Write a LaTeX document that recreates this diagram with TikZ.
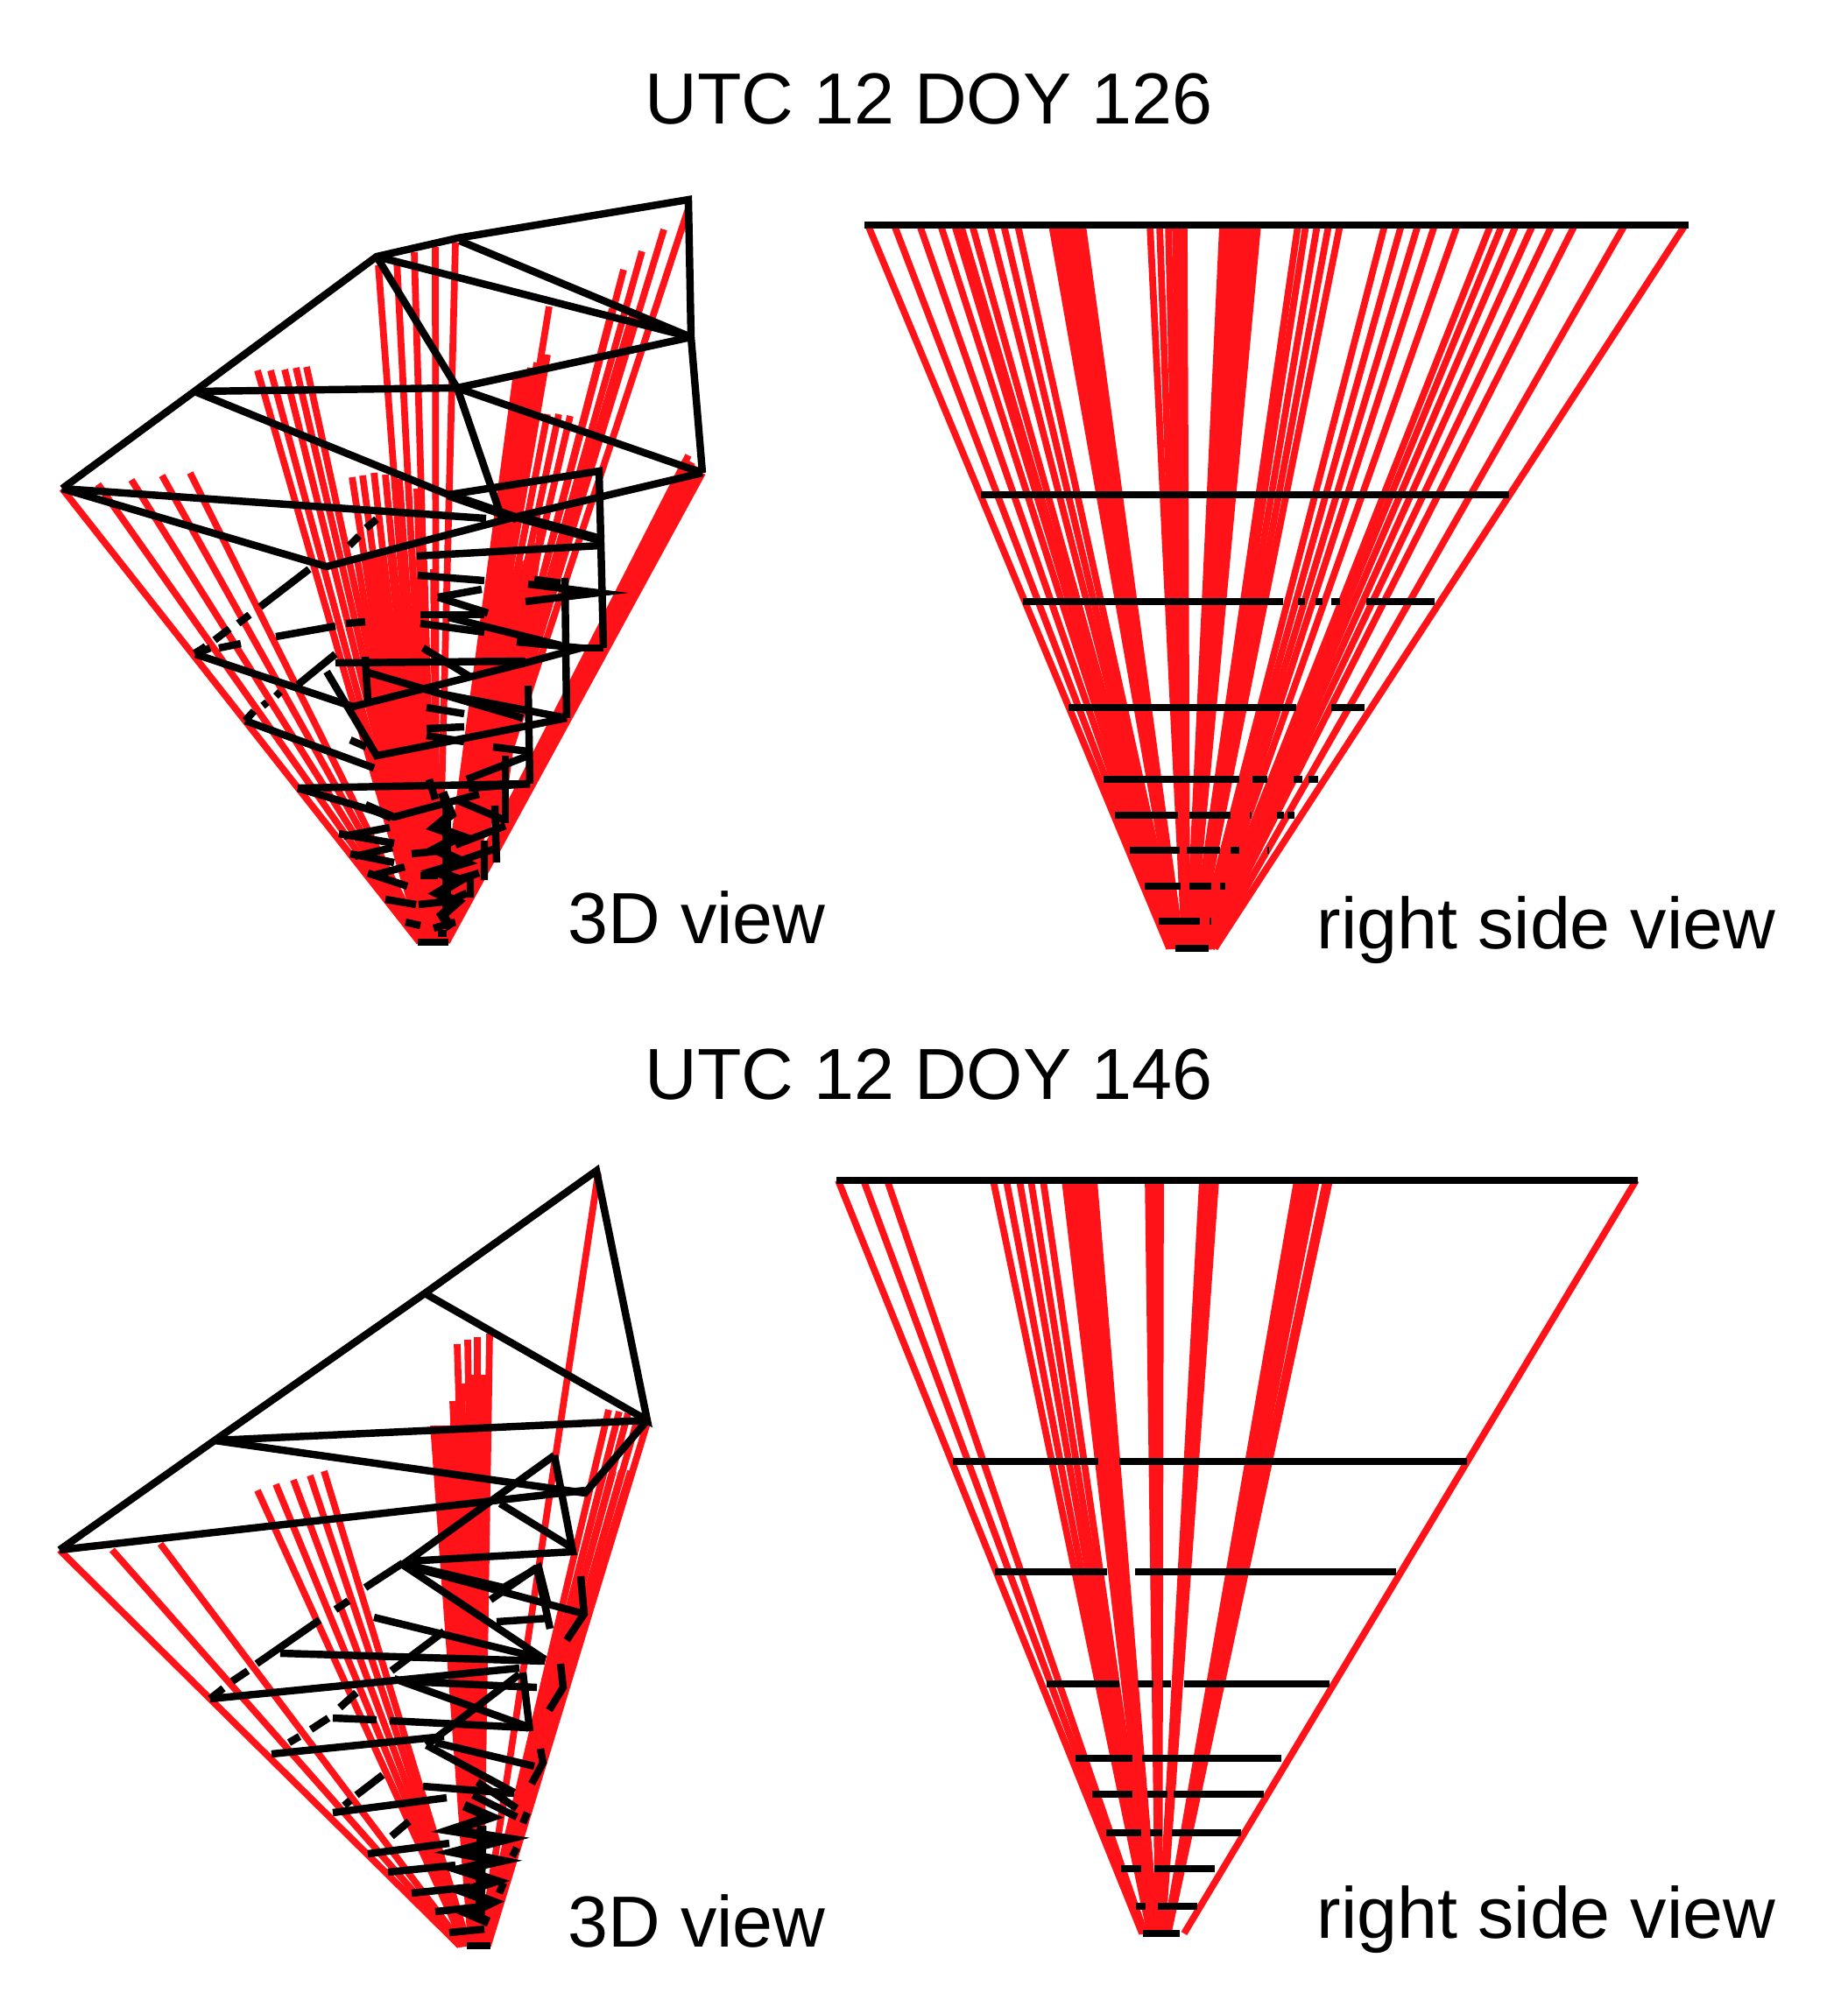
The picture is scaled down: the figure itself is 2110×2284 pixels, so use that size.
\documentclass[tikz,border=0pt]{standalone}
\usepackage{fontspec}
\setmainfont{Liberation Sans}
\definecolor{rayred}{RGB}{255,18,24}
\tikzset{
  ray/.style={draw=rayred,line width=2.2pt,line cap=butt},
  mesh/.style={draw=black,line width=2.4pt,line join=miter,line cap=butt},
  fatmesh/.style={draw=black,line width=3.1pt},
  bar/.style={draw=black,line width=2.3pt},
  lab/.style={font=\fontsize{23.5}{28}\selectfont,text=black,inner sep=0pt,anchor=base west}
}
\begin{document}
\begin{tikzpicture}[x=0.01cm,y=-0.01cm]
\useasboundingbox (0,0) rectangle (2110,2284);
% ===== titles and labels =====
\node[lab] (t1) at (736,141) {UTC 12 DOY 126};
\node[lab] (t2) at (736,1255) {UTC 12 DOY 146};
\node[lab] (v1) at (648,1077) {3D view};
\node[lab] (v2) at (1503,1083) {right side view};
\node[lab] (v3) at (648,2223) {3D view};
\node[lab] (v4) at (1503,2213) {right side view};
% ===== upper right-side view =====
\foreach \t in {991,1021,1050,1074,1090,1097,1110,1130,1146,1162,
  1201,1206,1211,1216,1221,1226,1231,1236,
  1313,1324,1334,1342,1347,1352,
  1396,1401,1406,1411,1416,1421,1426,1431,1436,
  1482,1491,1504,1517,1530,1581,1600,1619,1638,1664,
  1702,1715,1731,1750,1772,1798,1855,1924}
  \draw[ray] (\t,257) -- ({1335+(\t-989)*0.0555},1083);
\foreach \a/\b/\y in {987/1928/257,1120/1723/565,1168/1465/687,1482/1490/687,1502/1510/687,1520/1530/687,1560/1638/687,
  1220/1480/808,1520/1558/808,
  1260/1415/890,1430/1447/890,1477/1487/890,1494/1505/890,
  1273/1345/931,1358/1405/931,1427/1429/931,1458/1466/931,1470/1478/931,
  1290/1347/971,1355/1393/971,1405/1415/971,1447/1449/971,
  1307/1348/1012,1358/1383/1012,1393/1399/1012,
  1323/1370/1052,1381/1383/1052,1342/1380/1083}
  \draw[bar] (\a,\y) -- (\b,\y);
% ===== lower right-side view =====
\foreach \t in {957,986,1013,1134,1149,1164,1177,1191,
  1216,1221,1226,1231,1236,1241,1246,1249,
  1311,1316,1321,1325,
  1373,1378,1383,1388,
  1481,1486,1491,1496,1500,1503,1514,1518,1868}
  \draw[ray] (\t,1348) -- ({1304+(\t-955)*0.0525},2208);
\foreach \a/\b/\y in {955/1870/1348,1088/1254/1669,1278/1675/1669,
  1136/1264/1795,1296/1594/1795,
  1195/1278/1923,1299/1317/1923,1327/1337/1923,1352/1518/1923,
  1228/1293/2008,1304/1463/2008,
  1247/1293/2049,1310/1333/2049,1340/1443/2049,
  1263/1303/2093,1313/1327/2093,1338/1417/2093,
  1280/1303/2134,1318/1387/2134,
  1297/1308/2177,1322/1367/2177,1305/1347/2208}
  \draw[bar] (\a,\y) -- (\b,\y);
% ===== upper 3D view: rays =====
\foreach \a/\b/\c in {71/558/479,112/553/481,150/548/482,185/543/483,217/540/484,
  294/423/482,309/423/485,325/422/488,338/420/491,350/419/494,
  432/303/490,453/297/493,473/288/496,497/282/498,520/277/500,
  402/545/484,414/543/486,427/540/488,440/542/490,456/547/492,476/558/494,
  408/640/485,420/635/487,432/630/489,445/625/491,458/620/493,470/625/495,484/640/497,495/650/499,
  627/350/509,625/405/509,619/412/508,613/414/507,606/420/506,600/424/505,595/425/504,590/425/503,
  625/473/508,638/473/509,651/475/510,
  699/353/510,722/360/510,712/308/510,733/287/510,758/262/510,786/238/510,
  802/540/510,798/536/508,794/532/506,790/528/504,786/520/502,782/545/500,776/555/498}
  \draw[ray] (\a,\b) -- (\c,1076);
% filling of the band right of the centre
\draw[ray] (618,600) -- (572,930);
\draw[ray] (610,620) -- (564,940);
\draw[ray] (602,640) -- (556,950);
\draw[ray] (594,640) -- (548,960);
\draw[ray] (586,650) -- (540,970);
\draw[ray] (578,650) -- (534,980);
\draw[ray] (470,760) -- (500,1000);
\draw[ray] (462,800) -- (490,1000);
% upper 3D view: mesh
\draw[mesh] (71,558) -- (222,447) -- (430,293) -- (522,272) -- (786,228) -- (789,385) -- (802,540);
\draw[mesh] (430,293) -- (522,443) -- (573,592);
\draw[mesh] (525,275) -- (789,385) -- (430,293);
\draw[mesh] (522,443) -- (789,385);
\draw[mesh] (222,447) -- (522,443) -- (802,540);
\draw[mesh] (222,447) -- (512,565);
\draw[fatmesh] (512,565) -- (590,592);
\draw[mesh] (71,558) -- (555,592);
\draw[mesh] (71,558) -- (373,647) -- (590,590) -- (802,540);
\draw[mesh] (512,565) -- (684,538) -- (689,740);
\draw[fatmesh] (590,590) -- (689,617);
\draw[mesh] (476,635) -- (686,623);
\draw[mesh] (477,657) -- (553,663);
\draw[mesh] (500,682) -- (550,673);
\draw[mesh] (500,682) -- (557,700);
\draw[mesh] (480,702) -- (553,702);
\draw[mesh] (480,712) -- (553,722);
\draw[mesh] (512,705) -- (640,737);
\draw[mesh] (603,667) -- (683,677) -- (600,687);
\draw[fatmesh] (610,663) -- (640,667);
\draw[mesh] (645,660) -- (647,820);
\draw[mesh] (590,733) -- (663,740) -- (600,757);
\draw[mesh] (663,740) -- (689,740);
\draw[mesh] (353,650) -- (297,693);
\draw[mesh] (285,702) -- (272,712) (262,718) -- (245,731) (235,738) -- (223,747);
\draw[mesh] (399,623) -- (410,612) (418,603) -- (430,593);
\draw[mesh] (223,747) -- (240,740) (250,740) -- (275,735) (315,727) -- (383,715) (395,712) -- (417,710);
\draw[mesh] (223,747) -- (403,807) -- (600,757);
\draw[fatmesh] (223,747) -- (235,740);
\draw[mesh] (383,747) -- (340,782);
\draw[mesh] (383,757) -- (600,755);
\draw[mesh] (373,767) -- (430,863) -- (647,820);
\draw[mesh] (417,750) -- (420,800);
\draw[mesh] (417,767) -- (597,820);
\draw[mesh] (507,793) -- (647,820);
\draw[mesh] (483,740) -- (537,773);
\draw[mesh] (603,783) -- (605,895);
\draw[mesh] (487,808) -- (530,815) (487,832) -- (530,830) (487,840) -- (530,847);
\draw[mesh] (280,823) -- (427,877);
\draw[mesh] (280,823) -- (290,812) (300,806) -- (305,802) (315,795) -- (320,790);
\draw[mesh] (400,845) -- (418,853);
\draw[mesh] (340,900) -- (605,895);
\draw[mesh] (340,900) -- (450,933) -- (547,907);
\draw[mesh] (563,853) -- (603,858);
\draw[mesh] (533,890) -- (603,863);
\draw[mesh] (577,863) -- (577,940);
\draw[mesh] (490,890) -- (497,913);
\draw[mesh] (520,913) -- (577,937);
\draw[mesh] (535,900) -- (605,895);
\draw[fatmesh] (417,920) -- (447,933);
\draw[mesh] (387,952) -- (450,963) (392,955) -- (445,945);
\draw[mesh] (400,975) -- (450,985) (405,978) -- (448,968);
\draw[mesh] (420,997) -- (465,1012) (425,1000) -- (462,990);
\draw[mesh] (440,1027) -- (475,1033);
\draw[mesh] (463,1053) -- (480,1057);
\draw[mesh] (477,1076) -- (512,1076);
\draw[mesh] (565,920) -- (567,985) (553,960) -- (553,1005) (537,1000) -- (537,1025);
\draw[fatmesh] (505,905) -- (515,930) -- (497,945) -- (525,955) -- (497,970) -- (530,985) -- (497,995)
  -- (525,1005) -- (500,1020) -- (522,1030) -- (505,1045) -- (515,1060);
\draw[fatmesh] (510,915) -- (510,1040);
\draw[mesh] (577,943) -- (520,965) (563,970) -- (520,985) (547,997) -- (520,1005) (533,1020) -- (510,1030) (520,1053) -- (495,1060);
\draw[mesh] (470,975) -- (500,972) (480,1000) -- (500,1000) (478,1033) -- (505,1030);
\draw[mesh] (500,1066) -- (510,1066);
% ===== lower 3D view: rays =====
\foreach \a/\b/\c in {68/1770/525,128/1770/527,183/1763/529,
  294/1702/531,315/1695/532,335/1690/533,354/1685/534,370/1680/535,
  495/1628/538,500/1628/539,505/1628/540,511/1628/541,517/1600/542,
  522/1535/543,534/1530/545,545/1527/546,559/1523/548,527/1580/544,540/1570/546,553/1570/547,
  683/1340/550,
  695/1610/550,707/1612/551,717/1614/553,728/1620/555,739/1625/557,
  690/1680/550,700/1680/552,710/1680/554,720/1680/555}
  \draw[ray] (\a,\b) -- (\c,2222);
% lower 3D view: mesh
\draw[mesh] (68,1770) -- (245,1645) -- (485,1477) -- (681,1337) -- (739,1622) -- (485,1477);
\draw[mesh] (245,1645) -- (739,1622);
\draw[mesh] (245,1645) -- (668,1705) -- (739,1622);
\draw[mesh] (68,1770) -- (668,1702);
\draw[mesh] (633,1662) -- (654,1772) -- (465,1783) -- (633,1662);
\draw[mesh] (571,1717) -- (654,1768);
\draw[mesh] (465,1787) -- (575,1813) -- (615,1790) -- (625,1830);
\draw[mesh] (460,1787) -- (622,1895);
\draw[mesh] (460,1787) -- (667,1843);
\draw[mesh] (613,1790) -- (560,1827);
\draw[mesh] (613,1790) -- (628,1860);
\draw[mesh] (567,1852) -- (627,1848);
\draw[mesh] (460,1785) -- (417,1813) (398,1828) -- (383,1838) (365,1850) -- (293,1900) (283,1908) -- (265,1920) (255,1928) -- (240,1940);
\draw[mesh] (427,1847) -- (623,1895);
\draw[mesh] (320,1888) -- (622,1897);
\draw[mesh] (240,1940) -- (593,1905);
\draw[mesh] (507,1863) -- (447,1908);
\draw[mesh] (450,1917) -- (603,1972);
\draw[mesh] (460,1920) -- (613,1927);
\draw[mesh] (597,1910) -- (605,1977);
\draw[mesh] (593,1912) -- (487,1993);
\draw[mesh] (407,1933) -- (388,1950) (375,1962) -- (355,1975) (342,1983) -- (330,1990);
\draw[mesh] (380,1962) -- (430,1964) (445,1965) -- (603,1973);
\draw[mesh] (310,2003) -- (507,1983);
\draw[mesh] (487,1993) -- (587,2047);
\draw[mesh] (497,1990) -- (610,2017);
\draw[mesh] (483,2040) -- (587,2048);
\draw[mesh] (380,2070) -- (510,2053);
\draw[mesh] (437,2027) -- (407,2050) (400,2056) -- (393,2062);
\draw[mesh] (420,2117) -- (513,2105);
\draw[mesh] (467,2080) -- (447,2097);
\draw[mesh] (443,2138) -- (520,2130);
\draw[mesh] (470,2162) -- (537,2155);
\draw[mesh] (497,2183) -- (553,2177);
\draw[mesh] (513,2207) -- (553,2203);
\draw[mesh] (533,2222) -- (560,2222);
\draw[mesh] (663,1800) -- (667,1843) -- (647,1873);
\draw[mesh] (640,1900) -- (643,1927) -- (627,1953);
\draw[mesh] (617,1997) -- (620,2013) -- (607,2037);
\draw[mesh] (602,2070) -- (597,2082) (590,2110) -- (585,2120) (575,2150) -- (570,2162);
\draw[fatmesh] (530,2062) -- (560,2075) -- (515,2090) -- (578,2100) -- (520,2115) -- (570,2125) -- (525,2135) -- (565,2148)
  -- (530,2160) -- (562,2172) -- (535,2185) -- (558,2195);
\draw[fatmesh] (550,2085) -- (548,2190);
\draw[mesh] (540,2050) -- (590,2075);
\draw[mesh] (545,2035) -- (590,2065);
\end{tikzpicture}
\end{document}
